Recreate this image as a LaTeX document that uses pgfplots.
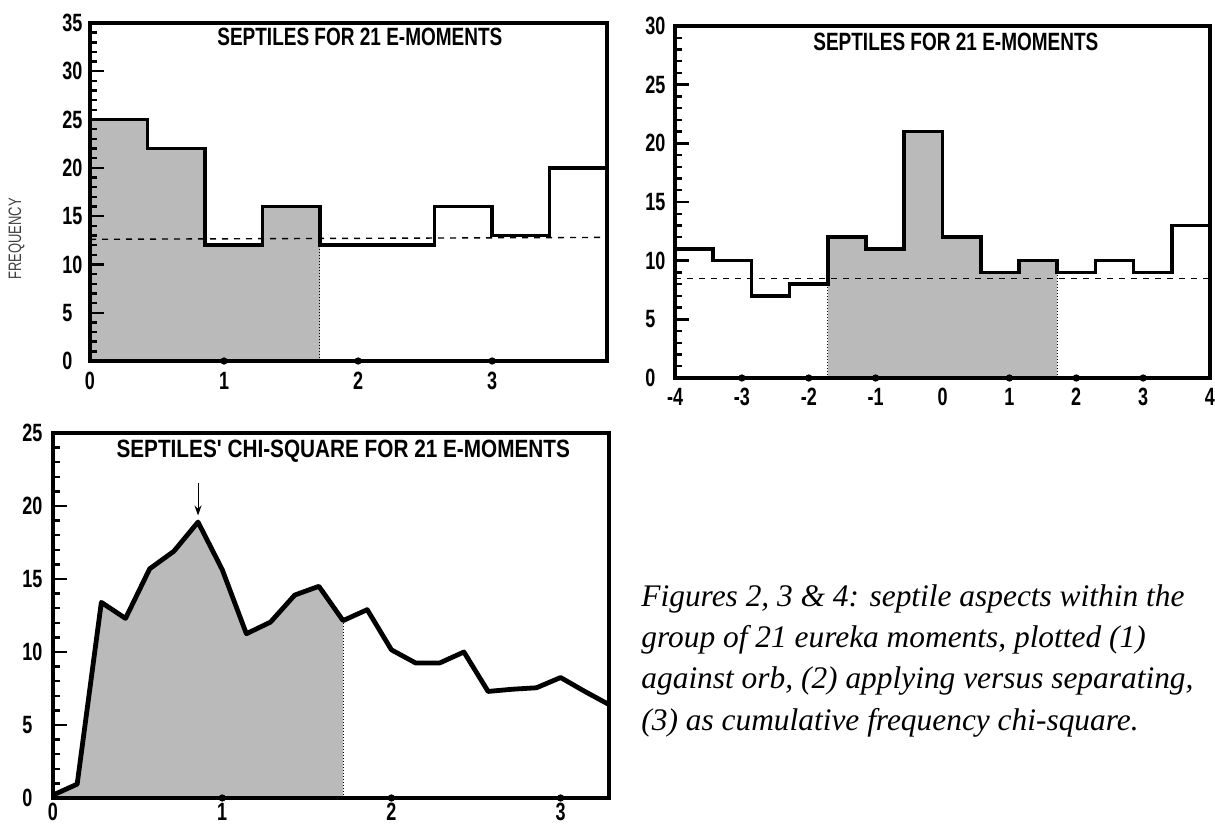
\documentclass[border=0pt]{standalone}
\usepackage{pgfplots}
\pgfplotsset{compat=1.18}
\usetikzlibrary{arrows.meta}
\usepackage{fontspec}
\newfontfamily\tickfont[FakeStretch=0.72]{Liberation Sans}
\newfontfamily\titlefont[FakeStretch=0.76]{Liberation Sans}
\newfontfamily\titlefontb[FakeStretch=0.83]{Liberation Sans}
\newfontfamily\capfont{Liberation Serif}
\tikzset{ttl/.style={anchor=center, inner sep=0pt, font=\titlefont\bfseries\fontsize{12.5}{12.5}\selectfont}}
\begin{document}
\begin{tikzpicture}
\useasboundingbox (0,0) rectangle (607.5pt,412.5pt);
\pgfplotsset{
  myax/.style={
    scale only axis, anchor=south west, axis on top, clip=false,
    axis line style={line width=1.6pt, black},
    tick align=inside,
    xtick style={draw=none},
    ytick style={line width=1.2pt, black},
    ytick pos=left, xtick pos=bottom,
    minor y tick num=4,
    major tick length=7pt, minor tick length=3.5pt,
    tick label style={font=\tickfont\bfseries\fontsize{12.5}{12.5}\selectfont, inner sep=0pt},
    yticklabel style={anchor=west},
    xticklabel style={anchor=north},
  },
}
% ---------------- Panel 1
\begin{axis}[myax, at={(45pt,232pt)}, width=258.5pt, height=169pt,
  xmin=0, xmax=3.857, ymin=0, ymax=35,
  xtick={0,1,2,3}, xticklabels={0,1,2,3},
  ytick={0,5,10,15,20,25,30,35}, yticklabels={0,5,10,15,20,25,30,35},
  yticklabel style={xshift=-14pt}, xticklabel style={yshift=-5.5pt}]
\addplot[fill=black!27, draw=none, const plot] coordinates {(0,25)(0.4286,22)(0.8571,12)(1.2857,16)(1.7143,16)} \closedcycle;
\addplot[densely dotted, line width=0.5pt] coordinates {(1.7143,0)(1.7143,12)};
\addplot[dash pattern=on 3pt off 3pt, line width=0.7pt] coordinates {(0,12.6)(3.857,12.8)};
\addplot[const plot, line width=1.8pt] coordinates {(0,25)(0.4286,22)(0.8571,12)(1.2857,16)(1.7143,12)(2.1429,12)(2.5714,16)(3.0,13)(3.4286,20)(3.857,20)};
\addplot[only marks, mark=*, mark size=1.6pt] coordinates {(1,0)(2,0)(3,0)};
\node[ttl] at (rel axis cs:0.522,0.959) {SEPTILES FOR 21 E-MOMENTS};
\end{axis}
% ---------------- Panel 2
\begin{axis}[myax, at={(337.5pt,223.5pt)}, width=267.5pt, height=176pt,
  xmin=-4, xmax=4, ymin=0, ymax=30,
  xtick={-4,-3,-2,-1,0,1,2,3,4}, xticklabels={-4,-3,-2,-1,0,1,2,3,4},
  ytick={0,5,10,15,20,25,30}, yticklabels={0,5,10,15,20,25,30},
  yticklabel style={xshift=-15pt}, xticklabel style={yshift=-5pt}]
\addplot[fill=black!27, draw=none, const plot] coordinates {(-1.7143,12)(-1.1429,11)(-0.5714,21)(0,12)(0.5714,9)(1.1429,10)(1.7143,10)} \closedcycle;
\addplot[densely dotted, line width=0.5pt] coordinates {(-1.7143,0)(-1.7143,8)};
\addplot[densely dotted, line width=0.5pt] coordinates {(1.7143,0)(1.7143,9)};
\addplot[dash pattern=on 3pt off 3pt, line width=0.7pt] coordinates {(-4,8.5)(4,8.5)};
\addplot[const plot, line width=1.8pt] coordinates {(-4,11)(-3.4286,10)(-2.8571,7)(-2.2857,8)(-1.7143,12)(-1.1429,11)(-0.5714,21)(0,12)(0.5714,9)(1.1429,10)(1.7143,9)(2.2857,10)(2.8571,9)(3.4286,13)(4,13)};
\addplot[only marks, mark=*, mark size=1.6pt] coordinates {(-3,0)(-2,0)(-1,0)(1,0)(2,0)(3,0)};
\node[ttl] at (rel axis cs:0.525,0.955) {SEPTILES FOR 21 E-MOMENTS};
\end{axis}
% ---------------- Panel 3
\begin{axis}[myax, at={(26.5pt,13.5pt)}, width=278pt, height=182.5pt,
  xmin=0, xmax=3.286, ymin=0, ymax=25,
  xtick={0,1,2,3}, xticklabels={0,1,2,3},
  ytick={0,5,10,15,20,25}, yticklabels={0,5,10,15,20,25},
  yticklabel style={xshift=-15.5pt}, xticklabel style={yshift=-2.5pt}]
\addplot[fill=black!27, draw=none] coordinates {(0,0.2)(0.1429,0.95)(0.2857,13.4)(0.4286,12.3)(0.5714,15.7)(0.7143,16.9)(0.8571,18.9)(1.0,15.65)(1.1429,11.25)(1.2857,12.05)(1.4286,13.9)(1.5714,14.5)(1.7143,12.15)} \closedcycle;
\addplot[densely dotted, line width=0.5pt] coordinates {(1.7143,0)(1.7143,12.15)};
\addplot[line width=2.4pt, line join=round] coordinates {(0,0.2)(0.1429,0.95)(0.2857,13.4)(0.4286,12.3)(0.5714,15.7)(0.7143,16.9)(0.8571,18.9)(1.0,15.65)(1.1429,11.25)(1.2857,12.05)(1.4286,13.9)(1.5714,14.5)(1.7143,12.15)(1.8571,12.9)(2.0,10.15)(2.1429,9.25)(2.2857,9.25)(2.4286,10.0)(2.5714,7.3)(2.7143,7.45)(2.8571,7.55)(3.0,8.25)(3.1429,7.3)(3.286,6.4)};
\addplot[-{Stealth[length=5pt,width=3.5pt]}, line width=0.5pt] coordinates {(0.8571,21.6)(0.8571,19.35)};
\addplot[only marks, mark=*, mark size=1.6pt] coordinates {(1,0)(2,0)(3,0)};
\node[ttl, font=\titlefontb\bfseries\fontsize{12.5}{12.5}\selectfont] at (rel axis cs:0.522,0.949) {SEPTILES' CHI-SQUARE FOR 21 E-MOMENTS};
\end{axis}
% ---------------- labels and caption
\node[rotate=90, text=black!75, font=\tickfont\fontsize{9}{9}\selectfont] at (8.3pt,293pt) {FREQUENCY};
\begin{scope}[every node/.style={anchor=base west, inner sep=0pt, font=\capfont\itshape\fontsize{15.7}{18}\selectfont}]
\node at (320.5pt,109.5pt) {Figures 2, 3 \& 4: septile aspects within the};
\node at (320.5pt,88.8pt) {group of 21 eureka moments, plotted (1)};
\node at (320.5pt,68.1pt) {against orb, (2) applying versus separating,};
\node at (320.5pt,47.4pt) {(3) as cumulative frequency chi-square.};
\end{scope}
\end{tikzpicture}
\end{document}
